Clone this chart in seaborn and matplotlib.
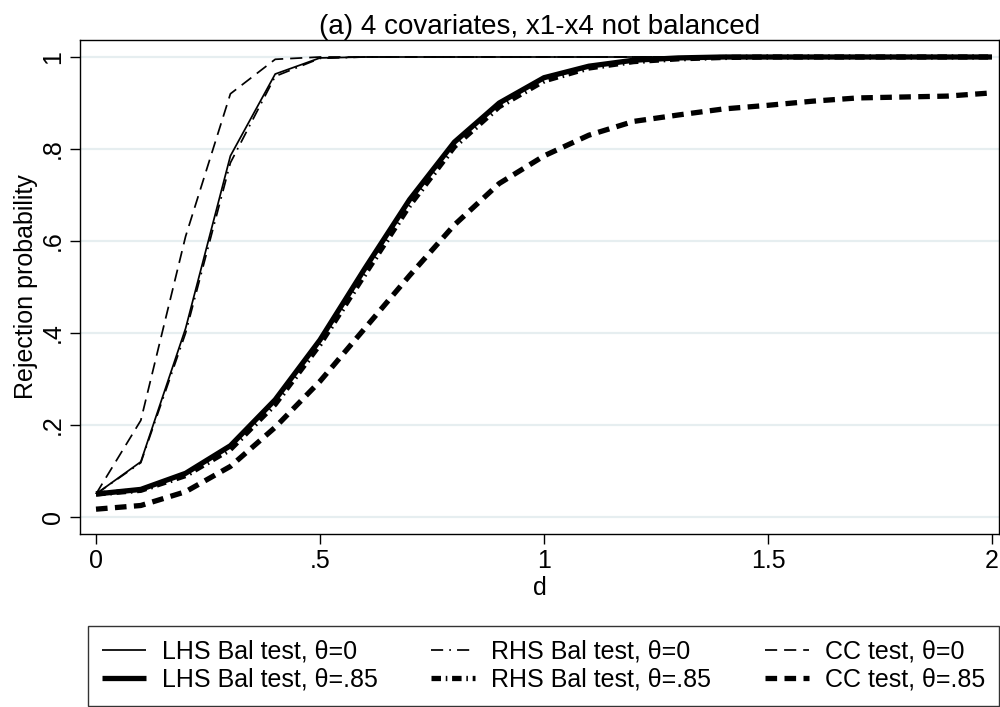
import numpy as np
import pandas as pd
import matplotlib
matplotlib.use("Agg")
import matplotlib.pyplot as plt
import seaborn as sns
from matplotlib.lines import Line2D

d = [0.0, 0.1, 0.2, 0.3, 0.4, 0.5, 0.6, 0.7, 0.8, 0.9, 1.0,
     1.1, 1.2, 1.3, 1.4, 1.5, 1.6, 1.7, 1.8, 1.9, 2.0]

lhs_0 = [0.05, 0.12, 0.41, 0.785, 0.963, 0.998, 1.0, 1.0, 1.0, 1.0, 1.0,
         1.0, 1.0, 1.0, 1.0, 1.0, 1.0, 1.0, 1.0, 1.0, 1.0]
rhs_0 = [0.05, 0.118, 0.40, 0.77, 0.958, 0.997, 1.0, 1.0, 1.0, 1.0, 1.0,
         1.0, 1.0, 1.0, 1.0, 1.0, 1.0, 1.0, 1.0, 1.0, 1.0]
cc_0 = [0.05, 0.21, 0.61, 0.92, 0.995, 1.0, 1.0, 1.0, 1.0, 1.0, 1.0,
        1.0, 1.0, 1.0, 1.0, 1.0, 1.0, 1.0, 1.0, 1.0, 1.0]
lhs_85 = [0.05, 0.06, 0.095, 0.155, 0.255, 0.385, 0.54, 0.69, 0.815, 0.90, 0.955,
          0.98, 0.993, 0.998, 1.0, 1.0, 1.0, 1.0, 1.0, 1.0, 1.0]
rhs_85 = [0.05, 0.058, 0.09, 0.147, 0.245, 0.375, 0.527, 0.677, 0.805, 0.892, 0.948,
          0.976, 0.99, 0.996, 0.999, 1.0, 1.0, 1.0, 1.0, 1.0, 1.0]
cc_85 = [0.017, 0.025, 0.055, 0.11, 0.195, 0.295, 0.41, 0.525, 0.635, 0.725, 0.785,
         0.83, 0.86, 0.874, 0.887, 0.895, 0.904, 0.911, 0.913, 0.915, 0.922]

labels = ["LHS Bal test, \u03b8=0", "RHS Bal test, \u03b8=0", "CC test, \u03b8=0",
          "LHS Bal test, \u03b8=.85", "RHS Bal test, \u03b8=.85", "CC test, \u03b8=.85"]
series = [lhs_0, rhs_0, cc_0, lhs_85, rhs_85, cc_85]
xtick_vals = [0, 0.5, 1, 1.5, 2]
xtick_labels = ["0", ".5", "1", "1.5", "2"]
ytick_vals = [0, 0.2, 0.4, 0.6, 0.8, 1]
ytick_labels = ["0", ".2", ".4", ".6", ".8", "1"]

sns.set_theme(style="white")
plt.rcParams['font.family'] = ['Liberation Sans', 'DejaVu Sans']
plt.rcParams.update({"text.color": "black", "axes.labelcolor": "black",
                     "xtick.color": "black", "ytick.color": "black",
                     "axes.edgecolor": "black"})

fig = plt.figure(figsize=(10, 7.07), dpi=100)
# axes box: x 80..999, y 40..534 (pixels from top)
ax = fig.add_axes([0.080, 1 - 534 / 707, 0.919, (534 - 40) / 707])

thin, thick = 1.25, 3.8
styles = [
    dict(lw=thin, ls="-"),
    dict(lw=thin, ls=(0, (7, 3.5, 1, 3.5))),
    dict(lw=thin, ls=(0, (7, 4))),
    dict(lw=thick, ls="-"),
    dict(lw=thick, ls=(0, (1.8, 0.9, 0.3, 0.9))),
    dict(lw=thick, ls=(0, (2.2, 1.4))),
]

for lab, vals, st in zip(labels, series, styles):
    df = pd.DataFrame({"d": d, "p": vals})
    sns.lineplot(data=df, x="d", y="p", ax=ax, color="black",
                 linewidth=st["lw"], linestyle=st["ls"], legend=False,
                 solid_capstyle="butt", dash_capstyle="butt")

ax.set_xlim(-16 / 448, 2 + 7 / 448)
ax.set_ylim(-17 / 460, 1 + 17 / 460)
ax.set_xticks(xtick_vals)
ax.set_xticklabels(xtick_labels)
ax.set_yticks(ytick_vals)
ax.set_yticklabels(ytick_labels, rotation=90, va="center")
ax.yaxis.grid(True, color="#e6eef0", linewidth=1.6)
ax.xaxis.grid(False)
ax.set_axisbelow(True)
ax.tick_params(axis="both", direction="out", length=7, width=1, color="black",
               labelcolor="black", labelsize=18, bottom=True, left=True, pad=4)
for s in ax.spines.values():
    s.set_color("black")
    s.set_linewidth(1)
ax.set_xlabel("d", fontsize=18, labelpad=2, color="black")
ax.set_ylabel("Rejection probability", fontsize=18, labelpad=2, color="black")
ax.set_title("(a) 4 covariates, x1-x4 not balanced", fontsize=20, pad=4, color="black")

handles = [Line2D([], [], color="black", linewidth=st["lw"], linestyle=st["ls"],
                  solid_capstyle="butt", dash_capstyle="butt") for st in styles]
order = [0, 3, 1, 4, 2, 5]
leg = fig.legend([handles[i] for i in order], [labels[i] for i in order],
                 ncol=3, loc="lower left",
                 bbox_to_anchor=(88 / 1000, 1.5 / 707, 911 / 1000, 86 / 707),
                 mode="expand", fontsize=18, frameon=True, fancybox=False,
                 edgecolor="black", handlelength=1.75, borderaxespad=0,
                 labelspacing=0.15, handletextpad=0.65, borderpad=0.55)
leg.get_frame().set_linewidth(1)
for t in leg.get_texts():
    t.set_color("black")

fig.savefig("out.png", dpi=100)
